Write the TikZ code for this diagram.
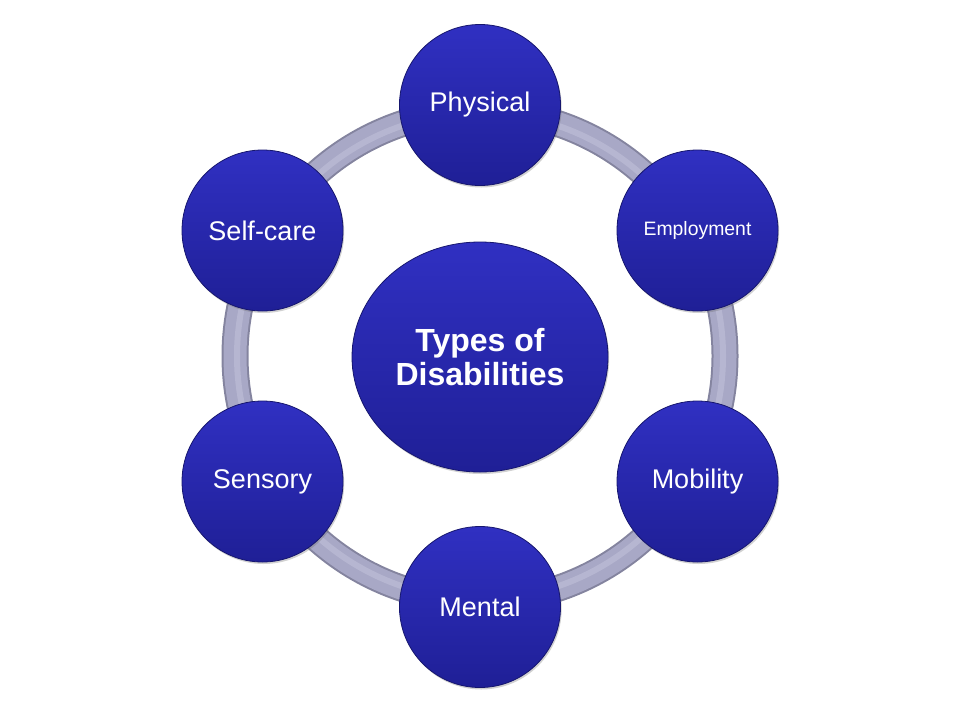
\documentclass[tikz,border=0pt]{standalone}
\usepackage{fontspec}
\setmainfont{Liberation Sans}
\usetikzlibrary{shapes.geometric,shadows}
\definecolor{bluetop}{HTML}{3030C2}
\definecolor{bluebot}{HTML}{1F1F96}
\definecolor{blueedge}{HTML}{16166E}
\definecolor{ringdark}{HTML}{84849F}
\definecolor{ringmid}{HTML}{A8A8C6}
\definecolor{ringlight}{HTML}{BDBDD6}
\tikzset{
  bubble/.style={circle, minimum size=161pt, inner sep=0pt, draw=blueedge, line width=0.8pt,
    top color=bluetop, bottom color=bluebot, text=white, align=center,
    drop shadow={shadow xshift=1.2pt, shadow yshift=-2pt, opacity=0.3, fill=black!60}},
  hub/.style={ellipse, minimum width=256pt, minimum height=230pt, inner sep=0pt, draw=blueedge, line width=0.8pt,
    top color=bluetop, bottom color=bluebot, text=white, align=center,
    drop shadow={shadow xshift=1.2pt, shadow yshift=-2pt, opacity=0.3, fill=black!60}},
  lbl/.style={font=\fontsize{27}{31}\selectfont},
  smalllbl/.style={font=\fontsize{19.4}{23}\selectfont},
}
\begin{document}
\begin{tikzpicture}[x=1pt,y=-1pt]
\useasboundingbox (0,0) rectangle (960,720);
\coordinate (o) at (480,356);
% ring
\draw[ringdark, line width=27pt] (o) circle (245pt);
\draw[ringmid, line width=23pt] (o) circle (245pt);
\draw[ringlight, line width=6pt, opacity=0.7] (o) circle (243pt);
% hub
\node[hub, font=\bfseries\fontsize{32}{34}\selectfont] (hub) at (480,357) {Types of\\Disabilities};
% bubbles
\node[bubble, lbl] (phys) at (480,105) {Physical};
\node[bubble, smalllbl] (emp) at (697.5,230.5) {Employment};
\node[bubble, lbl] (mob) at (697.5,481.5) {Mobility};
\node[bubble, lbl] (ment) at (480,607) {Mental};
\node[bubble, lbl] (sens) at (262.5,481.5) {Sensory};
\node[bubble, lbl] (self) at (262.5,230.5) {Self-care};
\end{tikzpicture}
\end{document}
